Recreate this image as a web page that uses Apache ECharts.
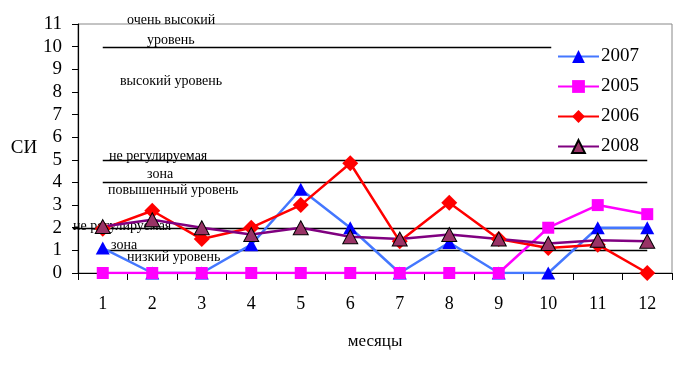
<!DOCTYPE html>
<html><head><meta charset="utf-8">
<script src="https://cdn.jsdelivr.net/npm/echarts@6/dist/echarts.min.js"></script>
<style>html,body{margin:0;padding:0;background:#fff}#c{width:690px;height:375px}</style>
</head><body><div id="c"></div>
<script>
const months = ['1','2','3','4','5','6','7','8','9','10','11','12'];
const s2007 = [1.1, 0, 0, 1.25, 3.7, 2.0, 0, 1.35, 0, 0, 2.0, 2.0];
const s2005 = [0, 0, 0, 0, 0, 0, 0, 0, 0, 2.0, 3.0, 2.6];
const s2006 = [1.95, 2.75, 1.5, 2.0, 3.0, 4.85, 1.4, 3.1, 1.5, 1.1, 1.25, 0];
const s2008 = [2.05, 2.35, 2.0, 1.7, 2.0, 1.6, 1.5, 1.7, 1.5, 1.3, 1.45, 1.4];
const levels = [10, 5, 4, 2, 1];
const levelTexts = ['очень высокий', 'уровень', 'высокий уровень', 'не регулируемая', 'зона', 'повышенный уровень', 'не регулируемая', 'зона', 'низкий уровень'];

const FONT = '"Liberation Serif", "DejaVu Serif", serif';
const chart = echarts.init(document.getElementById('c'), null, {renderer: 'canvas'});

const option = {
  animation: false,
  backgroundColor: '#fff',
  grid: {left: 78, right: 18, top: 24, bottom: 102, show: true, borderColor: '#888', borderWidth: 1, backgroundColor: 'transparent'},
  legend: {
    orient: 'vertical', left: 552, top: 42, itemWidth: 41, itemHeight: 16, itemGap: 11,
    textStyle: {fontFamily: FONT, fontSize: 19, color: '#000', padding: [0, 0, 0, -3]},
    data: ['2007', '2005', '2006', '2008']
  },
  xAxis: {
    type: 'category', data: months, boundaryGap: true,
    name: 'месяцы', nameLocation: 'middle', nameGap: 60,
    nameTextStyle: {fontFamily: FONT, fontSize: 17, color: '#000'},
    axisLine: {lineStyle: {color: '#000', width: 1.2}},
    axisTick: {show: true, length: 7, inside: false, lineStyle: {color: '#000'}},
    axisLabel: {fontFamily: FONT, fontSize: 18, color: '#000', margin: 22},
    splitLine: {show: false}
  },
  yAxis: {
    type: 'value', min: 0, max: 11, interval: 1,
    name: 'СИ', nameLocation: 'middle', nameGap: 35, nameRotate: 0,
    nameTextStyle: {fontFamily: FONT, fontSize: 19, color: '#000'},
    axisLine: {show: true, lineStyle: {color: '#000', width: 1.2}},
    axisTick: {show: true, length: 6, lineStyle: {color: '#000'}},
    axisLabel: {fontFamily: FONT, fontSize: 19, color: '#000', margin: 16},
    splitLine: {show: false}
  },
  series: [
    {name: '2007', type: 'line', data: s2007, symbol: 'triangle', symbolSize: [14, 13],
     lineStyle: {color: '#4477ff', width: 2.5}, itemStyle: {color: '#0000ff'}},
    {name: '2005', type: 'line', data: s2005, symbol: 'rect', symbolSize: 12,
     lineStyle: {color: '#ff00ff', width: 2.5}, itemStyle: {color: '#ff00ff'}},
    {name: '2006', type: 'line', data: s2006, symbol: 'diamond', symbolSize: [16, 16],
     lineStyle: {color: '#ff0000', width: 2.5}, itemStyle: {color: '#ff0000'}},
    {name: '2008', type: 'line', data: s2008, symbol: 'triangle', symbolSize: [15, 14],
     lineStyle: {color: '#800080', width: 2.5}, itemStyle: {color: '#993366', borderColor: '#000', borderWidth: 1}}
  ]
};
chart.setOption(option);

// reference level lines, positioned through the chart's own scales
const px = (i, v) => chart.convertToPixel({gridIndex: 0}, [i, v]);
const lineSpans = {10: [0, 9], 5: [0, 11], 4: [0, 11], 2: [0, 11], 1: [0, 11]};
const graphics = [];
levels.forEach(v => {
  const a = px(lineSpans[v][0], v), b = px(lineSpans[v][1], v);
  let x1 = a[0], x2 = b[0];
  if (v === 10) x2 += 3;
  if (v === 2) x1 -= 30;
  graphics.push({type: 'line', z: 1, silent: true,
    shape: {x1: x1, y1: Math.round(a[1]) + 0.5, x2: x2, y2: Math.round(a[1]) + 0.5},
    style: {stroke: '#000', lineWidth: 1.3}});
});
const textPos = [[127, 20], [147, 40], [120, 81], [109, 156], [147, 174], [108, 190], [73, 226], [111, 245], [127, 257]];
levelTexts.forEach((t, i) => {
  graphics.push({type: 'text', z: 1, silent: true, x: textPos[i][0], y: textPos[i][1],
    style: {text: t, font: '14px ' + FONT, fill: '#000', verticalAlign: 'middle', align: 'left'}});
});
chart.setOption({graphic: graphics});
</script>
</body></html>
